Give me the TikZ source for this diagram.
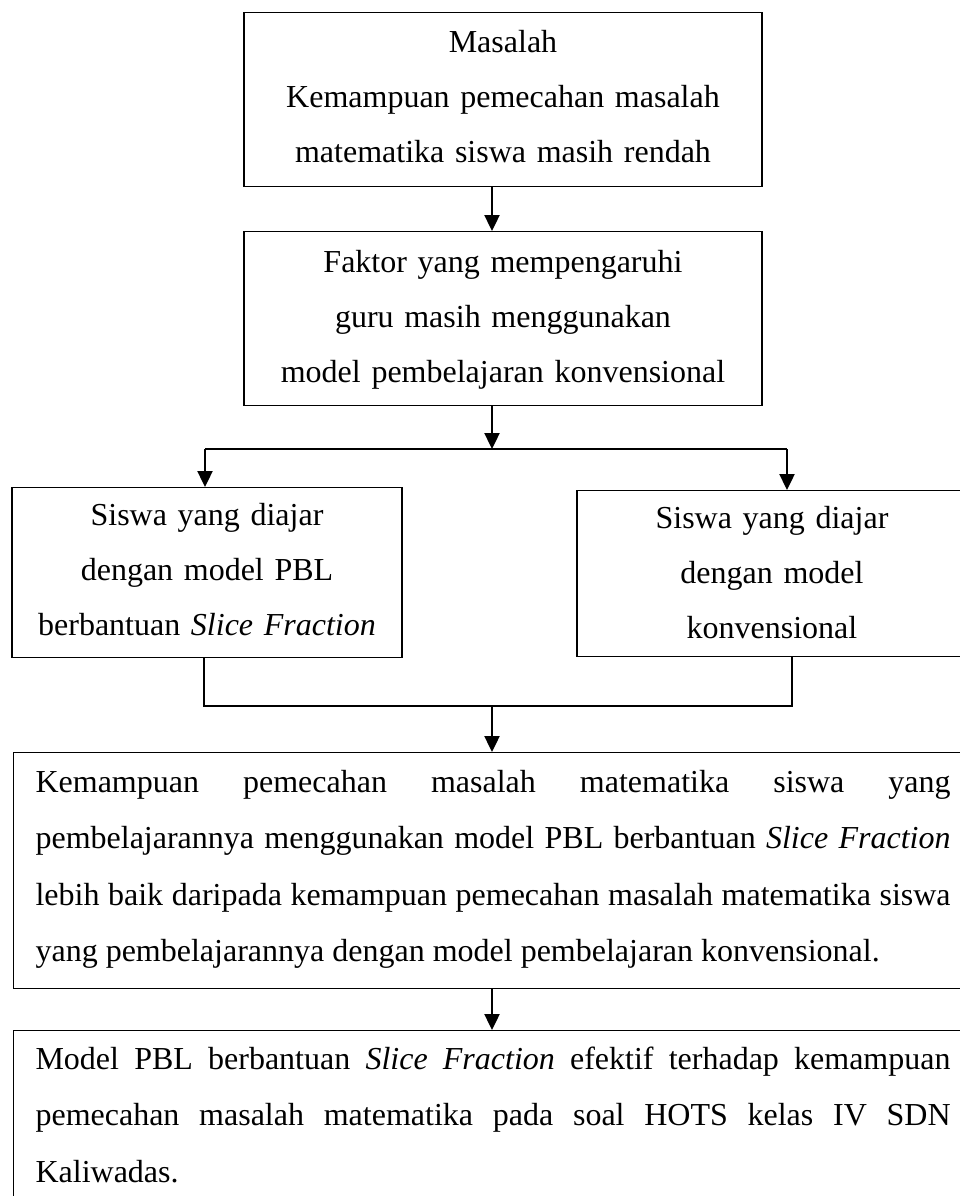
\documentclass[tikz,border=0pt]{standalone}
\usepackage{fontspec}
\setmainfont{Liberation Serif}
\usetikzlibrary{arrows.meta}
\begin{document}
\begin{tikzpicture}[x=1pt,y=-1pt,
  box/.style={draw=black,line width=1.1pt,inner ysep=0pt,font=\fontsize{32}{55}\selectfont},
  cbox/.style={box,align=center,inner xsep=19pt,anchor=north},
  jbox/.style={box,align=justify,inner xsep=22pt,anchor=north west,font=\fontsize{32}{56.3}\selectfont,text width=915pt},
  arr/.style={line width=2.4pt,-{Triangle[length=16pt,width=15pt]}},
  conn/.style={line width=1.2pt}]
\useasboundingbox (0,0) rectangle (960,1196);
\clip (0,0) rectangle (960,1196);

\node[cbox,text width=480pt,text height=40pt,text depth=134pt] (b1) at (503,12)
  {Masalah\\Kemampuan pemecahan masalah\\matematika siswa masih rendah};
\node[cbox,text width=480pt,text height=41pt,text depth=133pt] (b2) at (503,231)
  {Faktor yang mempengaruhi\\guru masih menggunakan\\model pembelajaran konvensional};
\node[cbox,text width=352pt,text height=38pt,text depth=132pt] (b3) at (207,487)
  {Siswa yang diajar\\dengan model PBL\\berbantuan \textit{Slice Fraction}};
\node[cbox,text width=352pt,text height=38pt,text depth=128pt] (b4) at (772,490)
  {Siswa yang diajar\\dengan model\\konvensional};
\node[jbox,text height=40pt,text depth=196pt] (b5) at (13,752)
  {Kemampuan pemecahan masalah matematika siswa yang\linebreak
   pembelajarannya menggunakan model PBL berbantuan \textit{Slice Fraction}\linebreak
   lebih baik daripada kemampuan pemecahan masalah matematika siswa\linebreak
   yang pembelajarannya dengan model pembelajaran konvensional.};
\node[jbox,text height=39pt,text depth=200pt] (b6) at (13,1030)
  {Model PBL berbantuan \textit{Slice Fraction} efektif terhadap kemampuan\linebreak
   pemecahan masalah matematika pada soal HOTS kelas IV SDN\linebreak
   Kaliwadas.};

\coordinate (sp) at (492,0);
\coordinate (sl) at (205,449);
\coordinate (sm) at (492,449);
\coordinate (sr) at (787,449);
\coordinate (ml) at (204,706);
\coordinate (mm) at (492,706);
\coordinate (mr) at (792,706);

\draw[arr] (b1.south -| sp) -- (b2.north -| sp);
\draw[arr] (b2.south -| sp) -- (sm);
\draw[conn] (sl) -- (sr);
\draw[arr] (sl) -- (b3.north -| sl);
\draw[arr] (sr) -- (b4.north -| sr);
\draw[conn] (b3.south -| ml) -- (ml) -- (mr) -- (b4.south -| mr);
\draw[arr] (mm) -- (b5.north -| mm);
\draw[arr] (b5.south -| sp) -- (b6.north -| sp);
\end{tikzpicture}
\end{document}
